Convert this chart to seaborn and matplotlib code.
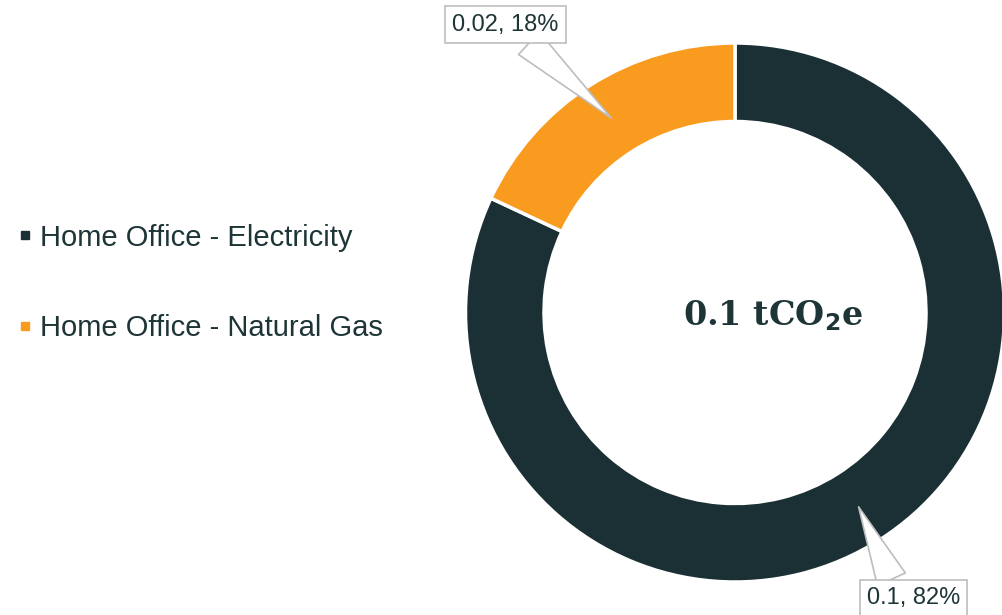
import numpy as np
import matplotlib
matplotlib.use("Agg")
import matplotlib.pyplot as plt
from matplotlib.lines import Line2D
import seaborn as sns

categories = ["Home Office - Electricity", "Home Office - Natural Gas"]
values = [0.1, 0.022]
percents = [82, 18]
total_label = "0.1"
colors = ["#1b3034", "#f99b1e"]

sns.set_theme(style="white")
plt.rcParams["font.family"] = ["Liberation Sans", "DejaVu Sans"]
text_color = "#1e3538"

W, H = 1003, 615
fig = plt.figure(figsize=(W / 100, H / 100), dpi=100)
cx, cy, R = 735, 615 - 312.5, 270
ax = fig.add_axes([(cx - R) / W, (cy - R) / H, 2 * R / W, 2 * R / H])

outer = 269.5 / R
width = (269.5 - 191) / R
wedges, _ = ax.pie(values, colors=colors, startangle=90, counterclock=False,
                   radius=outer,
                   wedgeprops=dict(width=width, edgecolor="white", linewidth=2.5))
ax.set_xlim(-1, 1)
ax.set_ylim(-1, 1)
ax.set_aspect("equal")
ax.axis("off")

fig.text(773 / W, (615 - 316) / H, total_label + " tCO$_\\mathbf{2}$e",
         ha="center", va="center",
         fontsize=24, fontweight="bold", family="DejaVu Serif", color=text_color)

# callouts
label_pos = [(913.5, 615 - 598), (505.5, 615 - 24.5)]
relpos = [(0.3, 1.0), (0.64, 0.0)]
rmid = outer - width / 2
for w, v, p, pos, rp in zip(wedges, values, percents, label_pos, relpos):
    ang = np.deg2rad((w.theta1 + w.theta2) / 2)
    tip = (rmid * np.cos(ang), rmid * np.sin(ang))
    txt = f"{round(v, 2):g}, {p}%"
    ax.annotate(txt, xy=tip, xycoords="data", xytext=pos, textcoords="figure pixels",
                ha="center", va="center", fontsize=17, color=text_color,
                bbox=dict(boxstyle="square,pad=0.3", fc="white", ec="#bdbdbd", lw=1.2),
                arrowprops=dict(arrowstyle="wedge,tail_width=1.3,shrink_factor=0.5",
                                fc="white", ec="#bdbdbd", lw=1.2, relpos=rp,
                                shrinkA=0, shrinkB=0),
                annotation_clip=False)

handles = [Line2D([0], [0], marker="s", linestyle="", markersize=6,
                  markerfacecolor=c, markeredgecolor=c) for c in colors]
fig.legend(handles, categories, loc="center left",
           bbox_to_anchor=(-7 / W, (615 - 283) / H), frameon=False,
           fontsize=21, labelcolor=text_color, handlelength=0.4,
           handletextpad=0.3, labelspacing=2.15)

fig.savefig("out.png", dpi=100)
